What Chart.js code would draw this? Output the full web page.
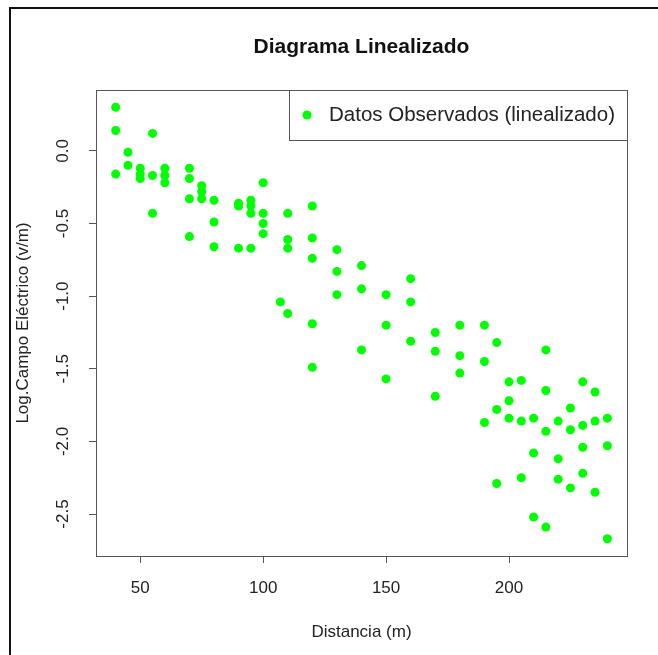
<!DOCTYPE html>
<html>
<head>
<meta charset="utf-8">
<title>Diagrama Linealizado</title>
<script src="https://cdn.jsdelivr.net/npm/chart.js@4.4.1/dist/chart.umd.min.js"></script>
<style>
  html, body { margin: 0; padding: 0; background: #fff; }
  #grafico { display: block; }
</style>
</head>
<body>
<canvas id="grafico" width="658" height="655"></canvas>
<script>
// datos (distancia en m, log del campo)
const distancia = [
  40, 40, 40, 45, 45, 50, 50, 50, 55, 55, 55, 60, 60, 60,
  70, 70, 70, 70, 75, 75, 75, 80, 80, 80, 90, 90, 90,
  95, 95, 95, 95, 100, 100, 100, 100, 107, 110, 110, 110, 110,
  120, 120, 120, 120, 120, 130, 130, 130, 140, 140, 140,
  150, 150, 150, 160, 160, 160, 170, 170, 170, 180, 180, 180,
  190, 190, 190, 195, 195, 195, 200, 200, 200, 205, 205, 205,
  210, 210, 210, 215, 215, 215, 215, 220, 220, 220, 225, 225, 225,
  230, 230, 230, 230, 235, 235, 235, 240, 240, 240
];
const logCampo = [
  0.30, 0.14, -0.16, -0.01, -0.10, -0.12, -0.16, -0.19, 0.12, -0.17, -0.43, -0.12, -0.17, -0.22,
  -0.12, -0.19, -0.33, -0.59, -0.24, -0.28, -0.33, -0.34, -0.49, -0.66, -0.36, -0.38, -0.67,
  -0.34, -0.38, -0.43, -0.67, -0.22, -0.43, -0.50, -0.57, -1.04, -0.43, -0.61, -0.67, -1.12,
  -0.38, -0.60, -0.74, -1.19, -1.49, -0.68, -0.83, -0.99, -0.79, -0.95, -1.37,
  -0.99, -1.20, -1.57, -0.88, -1.04, -1.31, -1.25, -1.38, -1.69, -1.20, -1.41, -1.53,
  -1.20, -1.45, -1.87, -1.32, -1.78, -2.29, -1.59, -1.72, -1.84, -1.58, -1.86, -2.25,
  -1.84, -2.08, -2.52, -1.37, -1.65, -1.93, -2.59, -1.86, -2.12, -2.26, -1.77, -1.92, -2.32,
  -1.59, -1.89, -2.04, -2.22, -1.66, -1.86, -2.35, -1.84, -2.03, -2.67
];
const xTicks = [50, 100, 150, 200];
const yTicks = [0, -0.5, -1, -1.5, -2, -2.5];

const fuente = '"Liberation Sans", Arial, Helvetica, sans-serif';
Chart.defaults.font.family = fuente;
Chart.defaults.color = '#222';

// rango como en R: 4% extra a cada lado
function rango(v) {
  const lo = Math.min(...v), hi = Math.max(...v);
  const d = (hi - lo) * 0.04;
  return [lo - d, hi + d];
}
const [xMin, xMax] = rango(distancia);
const [yMin, yMax] = rango(logCampo);

const puntos = distancia.map((d, i) => ({ x: d, y: logCampo[i] }));

// marco negro del recorte (izquierda y arriba)
const marco = {
  id: 'marco',
  beforeDraw(chart) {
    const ctx = chart.ctx;
    ctx.save();
    ctx.strokeStyle = '#111';
    ctx.lineWidth = 2;
    ctx.beginPath();
    ctx.moveTo(10, chart.height);
    ctx.lineTo(10, 8);
    ctx.lineTo(chart.width, 8);
    ctx.stroke();
    ctx.restore();
  }
};

// caja del gráfico y leyenda estilo R
const cajaLeyenda = {
  id: 'cajaLeyenda',
  afterDraw(chart) {
    const { ctx, chartArea: a } = chart;
    const ds = chart.data.datasets[0];
    ctx.save();
    ctx.strokeStyle = '#555';
    ctx.lineWidth = 1;
    ctx.strokeRect(a.left + 0.5, a.top + 0.5, a.right - a.left, a.bottom - a.top);

    ctx.font = '20.5px ' + fuente;
    const tw = ctx.measureText(ds.label).width;
    const w = tw + 52, h = 50;
    const x0 = a.right - w, y0 = a.top;
    ctx.fillStyle = '#fff';
    ctx.fillRect(x0, y0, w, h);
    ctx.strokeRect(x0 + 0.5, y0 + 0.5, w, h);
    ctx.fillStyle = ds.backgroundColor;
    ctx.beginPath();
    ctx.arc(x0 + 18, y0 + 25, 4.5, 0, 2 * Math.PI);
    ctx.fill();
    ctx.fillStyle = '#222';
    ctx.textBaseline = 'middle';
    ctx.fillText(ds.label, x0 + 40, y0 + 25);
    ctx.restore();
  }
};

new Chart(document.getElementById('grafico'), {
  type: 'scatter',
  data: {
    datasets: [{
      label: 'Datos Observados (linealizado)',
      data: puntos,
      backgroundColor: '#00ff00',
      borderWidth: 0,
      pointRadius: 4.5,
      pointHoverRadius: 4.5
    }]
  },
  options: {
    responsive: false,
    animation: false,
    layout: { padding: { left: 0, right: 31, top: 0, bottom: 0 } },
    plugins: {
      legend: { display: false },
      tooltip: { enabled: false },
      title: {
        display: true,
        text: 'Diagrama Linealizado',
        fullSize: false,
        color: '#111',
        font: { size: 21, weight: 'bold' },
        padding: { top: 35, bottom: 29.8 }
      }
    },
    scales: {
      x: {
        type: 'linear',
        min: xMin,
        max: xMax,
        afterBuildTicks: s => { s.ticks = xTicks.map(v => ({ value: v })); },
        afterFit: s => { s.height = 99; },
        grid: { drawOnChartArea: false, drawTicks: true, tickLength: 7, color: '#555' },
        border: { display: false },
        ticks: { font: { size: 17 }, padding: 15, maxRotation: 0, color: '#222' },
        title: { display: true, text: 'Distancia (m)', font: { size: 17 }, padding: { top: 0, bottom: 12.8 } }
      },
      y: {
        type: 'linear',
        min: yMin,
        max: yMax,
        afterBuildTicks: s => { s.ticks = yTicks.map(v => ({ value: v })); },
        afterFit: s => { s.width = 96; },
        grid: { drawOnChartArea: false, drawTicks: true, tickLength: 7, color: '#555' },
        border: { display: false },
        ticks: {
          font: { size: 17 }, padding: 11, minRotation: 90, maxRotation: 90,
          crossAlign: 'center', color: '#222',
          callback: v => v.toFixed(1)
        },
        title: { display: true, text: 'Log.Campo Eléctrico (v/m)', font: { size: 17 }, padding: { top: 12.8, bottom: 0 } }
      }
    }
  },
  plugins: [marco, cajaLeyenda]
});
</script>
</body>
</html>
